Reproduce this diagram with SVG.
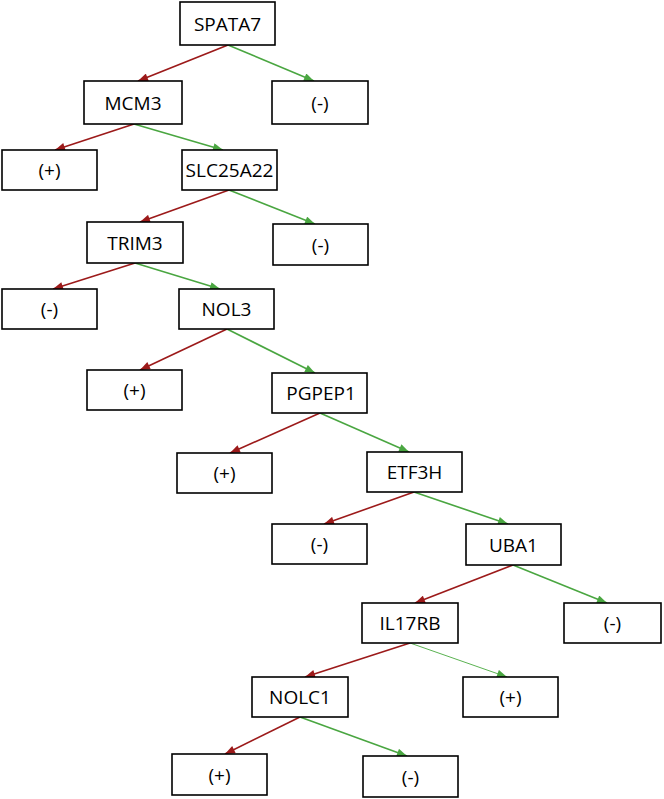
<svg xmlns="http://www.w3.org/2000/svg" width="664" height="799" viewBox="0 0 664 799">
<style>
.box{fill:#fff;stroke:#000;stroke-width:1.6}
.t{font-family:"Open Sans","Noto Sans",sans-serif;font-size:19px;fill:#000;text-anchor:middle}
.r{stroke:#9c1a1a;stroke-width:1.6;fill:none;marker-end:url(#ar)}
.g{stroke:#4aa641;stroke-width:1.6;fill:none;marker-end:url(#ag)}
.g2{stroke:#5bb352;stroke-width:1;fill:none;marker-end:url(#ag)}
</style>
<defs>
<marker id="ar" viewBox="0 0 10 8" refX="10" refY="4" markerWidth="11" markerHeight="8" markerUnits="userSpaceOnUse" orient="auto"><path d="M0,0 L10,4 L0,8 Z" fill="#9c1a1a"/></marker>
<marker id="ag" viewBox="0 0 10 8" refX="10" refY="4" markerWidth="11" markerHeight="8" markerUnits="userSpaceOnUse" orient="auto"><path d="M0,0 L10,4 L0,8 Z" fill="#4aa641"/></marker>
</defs>
<rect width="664" height="799" fill="#fff"/>
<g id="connectors">
<line class="r" x1="228" y1="45" x2="138" y2="81"/>
<line class="g" x1="228" y1="45" x2="314" y2="81"/>
<line class="r" x1="134" y1="124" x2="55" y2="150"/>
<line class="g" x1="134" y1="124" x2="223" y2="150"/>
<line class="r" x1="229" y1="190" x2="140" y2="222"/>
<line class="g" x1="229" y1="190" x2="315" y2="224"/>
<line class="r" x1="135" y1="263" x2="53" y2="289"/>
<line class="g" x1="135" y1="263" x2="220" y2="289"/>
<line class="r" x1="227" y1="329" x2="140" y2="370"/>
<line class="g" x1="227" y1="329" x2="315" y2="373"/>
<line class="r" x1="320" y1="413" x2="230" y2="453"/>
<line class="g" x1="320" y1="413" x2="409" y2="452"/>
<line class="r" x1="414" y1="492" x2="324" y2="524"/>
<line class="g" x1="414" y1="492" x2="508" y2="524"/>
<line class="r" x1="513" y1="565" x2="415" y2="603"/>
<line class="g" x1="513" y1="565" x2="607" y2="603"/>
<line class="r" x1="410" y1="643" x2="305" y2="677"/>
<line class="g2" x1="410" y1="643" x2="507" y2="677"/>
<line class="r" x1="300" y1="717" x2="225" y2="754"/>
<line class="g" x1="300" y1="717" x2="407" y2="756"/>
</g>
<g id="n_spata7"><rect class="box" x="180" y="2" width="95" height="43"/><text class="t" x="227.5" y="30.5">SPATA7</text></g>
<g id="n_neg1"><rect class="box" x="272" y="81" width="96" height="43"/><text class="t" x="320" y="109.5">(-)</text></g>
<g id="n_mcm3"><rect class="box" x="84" y="81" width="98" height="43"/><text class="t" x="133" y="109.5">MCM3</text></g>
<g id="n_pos1"><rect class="box" x="2" y="150" width="95" height="40"/><text class="t" x="49.5" y="177">(+)</text></g>
<g id="n_slc25a22"><rect class="box" x="182" y="150" width="95" height="40"/><text class="t" x="229.5" y="177">SLC25A22</text></g>
<g id="n_trim3"><rect class="box" x="87" y="222" width="96" height="41"/><text class="t" x="135" y="249.5">TRIM3</text></g>
<g id="n_neg2"><rect class="box" x="273" y="224" width="95" height="41"/><text class="t" x="320.5" y="251.5">(-)</text></g>
<g id="n_neg3"><rect class="box" x="2" y="289" width="95" height="40"/><text class="t" x="49.5" y="316">(-)</text></g>
<g id="n_nol3"><rect class="box" x="179" y="289" width="95" height="40"/><text class="t" x="226.5" y="316">NOL3</text></g>
<g id="n_pos2"><rect class="box" x="87" y="370" width="95" height="40"/><text class="t" x="134.5" y="397">(+)</text></g>
<g id="n_pgpep1"><rect class="box" x="272" y="373" width="95" height="40"/><text class="t" x="321" y="400">PGPEP1</text></g>
<g id="n_pos3"><rect class="box" x="177" y="453" width="95" height="40"/><text class="t" x="224.5" y="480">(+)</text></g>
<g id="n_etf3h"><rect class="box" x="367" y="452" width="95" height="40"/><text class="t" x="414.5" y="479">ETF3H</text></g>
<g id="n_neg4"><rect class="box" x="272" y="524" width="95" height="40"/><text class="t" x="319.5" y="551">(-)</text></g>
<g id="n_uba1"><rect class="box" x="466" y="524" width="95" height="41"/><text class="t" x="513.5" y="551.5">UBA1</text></g>
<g id="n_il17rb"><rect class="box" x="362" y="603" width="96" height="40"/><text class="t" x="410" y="630">IL17RB</text></g>
<g id="n_neg5"><rect class="box" x="564" y="603" width="97" height="40"/><text class="t" x="612.5" y="630">(-)</text></g>
<g id="n_nolc1"><rect class="box" x="252" y="677" width="96" height="40"/><text class="t" x="300" y="704">NOLC1</text></g>
<g id="n_pos4"><rect class="box" x="463" y="677" width="95" height="40"/><text class="t" x="510.5" y="704">(+)</text></g>
<g id="n_pos5"><rect class="box" x="172" y="754" width="95" height="41"/><text class="t" x="219.5" y="781.5">(+)</text></g>
<g id="n_neg6"><rect class="box" x="363" y="756" width="95" height="41"/><text class="t" x="410.5" y="783.5">(-)</text></g>
</svg>
